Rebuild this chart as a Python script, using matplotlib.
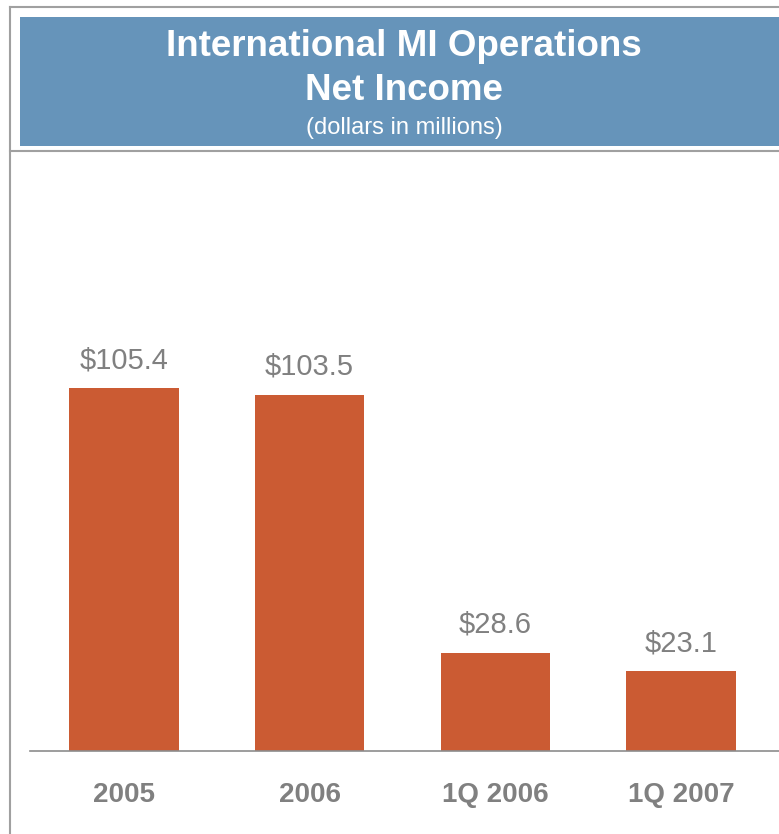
import matplotlib.pyplot as plt
from matplotlib.patches import Rectangle
from matplotlib.lines import Line2D

# Net income by period (dollars in millions)
periods = ['2005', '2006', '1Q 2006', '1Q 2007']
net_income = [105.4, 103.5, 28.6, 23.1]

W, H = 779, 834
bar_color = '#CB5B33'
header_color = '#6694BA'
text_gray = '#808080'
frame_gray = '#A0A0A0'

plt.rcParams['font.family'] = ['Liberation Sans', 'DejaVu Sans']

fig = plt.figure(figsize=(W / 100, H / 100), dpi=100)


def fx(px):
    return px / W


def fy(py):
    return 1 - py / H


# frame lines and header band
fig.add_artist(Line2D([fx(10), 1], [fy(7), fy(7)], color=frame_gray, lw=1.5))
fig.add_artist(Line2D([fx(10), fx(10)], [fy(7), 0], color=frame_gray, lw=1.5))
fig.add_artist(Line2D([fx(10), 1], [fy(151), fy(151)], color=frame_gray, lw=1.5))
fig.add_artist(Rectangle((fx(20), fy(146)), 1 - fx(20), fy(17) - fy(146),
                         transform=fig.transFigure, color=header_color, lw=0))

cx = fx(404)
fig.text(cx, fy(46), 'International MI Operations', ha='center', va='center',
         color='white', fontsize=26.5, fontweight='bold')
fig.text(cx, fy(91), 'Net Income', ha='center', va='center',
         color='white', fontsize=26.5, fontweight='bold')
fig.text(cx, fy(128), '(dollars in millions)', ha='center', va='center',
         color='white', fontsize=17)

# bar chart
ax = fig.add_axes([fx(30), fy(751), 1 - fx(30), fy(160) - fy(751)])
x = range(len(periods))
ax.bar(x, net_income, width=0.59, color=bar_color)
ax.set_xlim(-0.506, 3.528)
ax.set_ylim(0, 171.6)

for i, v in zip(x, net_income):
    ax.annotate(f'${v:.1f}', (i, v), xytext=(0, 20), textcoords='offset points',
                ha='center', va='center', color=text_gray, fontsize=21)

ax.set_xticks(list(x))
ax.set_xticklabels(periods, color=text_gray, fontsize=20, fontweight='bold')
ax.tick_params(axis='x', length=0, pad=22)
ax.set_yticks([])
for side in ['top', 'right', 'left']:
    ax.spines[side].set_visible(False)
ax.spines['bottom'].set_color('#8C8C8C')
ax.spines['bottom'].set_linewidth(1.2)
ax.patch.set_alpha(0)

fig.savefig('out.png', dpi=100)
